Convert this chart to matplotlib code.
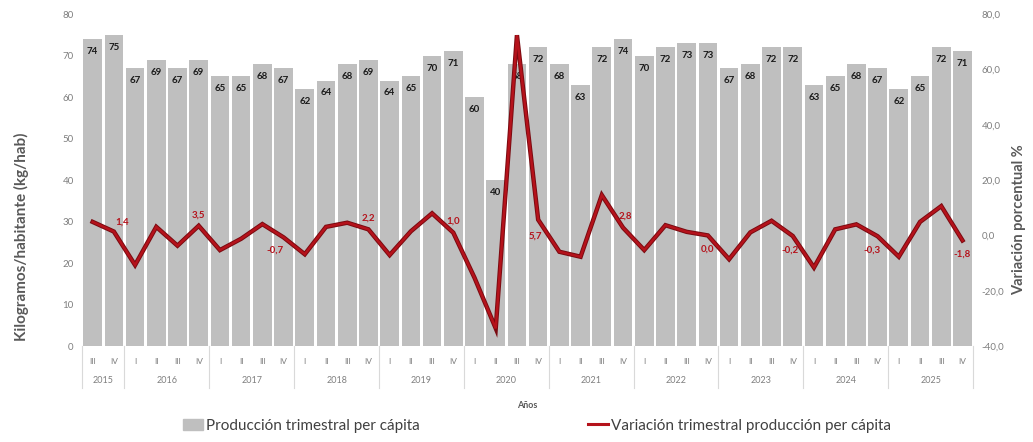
import numpy as np
import matplotlib.pyplot as plt
from matplotlib.patches import Patch
from matplotlib.lines import Line2D

plt.rcParams['font.family'] = ['Lato', 'DejaVu Sans']

# data
years = ['2015', '2016', '2017', '2018', '2019', '2020',
         '2021', '2022', '2023', '2024', '2025']
quarters = ['III', 'IV'] + ['I', 'II', 'III', 'IV'] * 10
produccion = [74, 75,
              67, 69, 67, 69,
              65, 65, 68, 67,
              62, 64, 68, 69,
              64, 65, 70, 71,
              60, 40, 68, 72,
              68, 63, 72, 74,
              70, 72, 73, 73,
              67, 68, 72, 72,
              63, 65, 68, 67,
              62, 65, 72, 71]
variacion = [4.9, 1.4,
             -10.7, 3.1, -3.7, 3.5,
             -5.3, -1.2, 4.1, -0.7,
             -6.8, 3.1, 4.6, 2.2,
             -7.1, 1.5, 8.0, 1.0,
             -15.3, -33.6, 72.4, 5.7,
             -5.9, -7.7, 14.6, 2.8,
             -5.3, 3.7, 1.3, 0.0,
             -8.6, 1.1, 5.3, -0.2,
             -11.6, 2.2, 4.0, -0.3,
             -7.7, 4.9, 10.6, -1.8]
# labels shown on the line (index, text, x offset, y offset in points)
line_labels = [(1, '1,4', 6, 7), (5, '3,5', 0, 8), (9, '-0,7', -6, -9),
               (13, '2,2', 0, 8), (17, '1,0', 0, 8), (21, '5,7', -2, -12),
               (25, '2,8', 2, 8), (29, '0,0', 0, -10), (33, '-0,2', -2, -10),
               (37, '-0,3', -4, -10), (41, '-1,8', 0, -10)]

x = np.arange(len(produccion))
gray_txt = '#7f7f7f'
red = '#B5121B'

fig = plt.figure(figsize=(10.33, 4.42), dpi=100)
ax = fig.add_axes([0.0794, 0.217, 0.8626, 0.751])
ax2 = ax.twinx()

# bars
ax.bar(x, produccion, width=0.88, color='#BFBFBF', zorder=2)
for i, v in enumerate(produccion):
    ax.text(i, v - 3, str(v), ha='center', va='center', fontsize=7,
            fontweight='bold', color='#1a1a1a', zorder=3)
ax.set_xlim(-0.5, len(produccion) - 0.5)
ax.set_ylim(0, 80)
ax.set_yticks(np.arange(0, 81, 10))
ax.set_xticks([])
ax.tick_params(axis='y', length=0, labelsize=7, labelcolor=gray_txt, pad=6)
for s in ax.spines.values():
    s.set_visible(False)
ax.set_ylabel('Kilogramos/habitante (kg/hab)', fontsize=11, fontweight='bold',
              color='#595959')
ax.yaxis.set_label_coords(-0.06, 0.33)

# line on secondary axis
ax2.plot(x, variacion, color='#7a0a10', linewidth=3.2, zorder=4, solid_joinstyle='miter')
ax2.plot(x, variacion, color=red, linewidth=1.8, zorder=5, solid_joinstyle='miter')
ax2.set_ylim(-40, 80)
ax2.set_yticks(np.arange(-40, 81, 20))
ax2.set_yticklabels([('%.1f' % t).replace('.', ',') for t in np.arange(-40, 81, 20)])
ax2.tick_params(axis='y', length=0, labelsize=7, labelcolor=gray_txt, pad=6)
for s in ax2.spines.values():
    s.set_visible(False)
ax2.set_ylabel('Variación porcentual %', fontsize=10.5, fontweight='bold',
               color='#595959')
ax2.yaxis.set_label_coords(1.044, 0.38)
for i, t, dx, dy in line_labels:
    ax2.annotate(t, (i, variacion[i]), xytext=(dx, dy), textcoords='offset points',
                 ha='center', va='center', fontsize=7, fontweight='bold', color=red)

# two level category axis
trans = ax.get_xaxis_transform()
for i, q in enumerate(quarters):
    ax.text(i, -0.045, q, transform=trans, ha='center', va='center',
            fontsize=6, color=gray_txt)
starts = [0] + [2 + 4 * k for k in range(10)]
ends = starts[1:] + [len(quarters)]
for yr, a, b in zip(years, starts, ends):
    ax.text((a + b - 1) / 2, -0.105, yr, transform=trans, ha='center', va='center',
            fontsize=6.5, color=gray_txt)
for b in [0] + ends:
    ax.plot([b - 0.5, b - 0.5], [0, -0.125], transform=trans, color='#d9d9d9',
            linewidth=0.8, clip_on=False)
ax.text(0.5, -0.18, 'Años', transform=ax.transAxes, ha='center', va='center',
        fontsize=6.5, fontweight='bold', color='#595959')

# legend
handles = [Patch(color='#BFBFBF', label='Producción trimestral per cápita'),
           Line2D([0], [0], color=red, linewidth=2.2,
                  label='Variación trimestral producción per cápita')]
fig.legend(handles=handles, loc='lower center', bbox_to_anchor=(0.52, -0.01), ncol=2,
           frameon=False, fontsize=11, columnspacing=11, handlelength=1.3,
           handletextpad=0.2, labelcolor='#404040')

plt.savefig('out.png', dpi=100)
